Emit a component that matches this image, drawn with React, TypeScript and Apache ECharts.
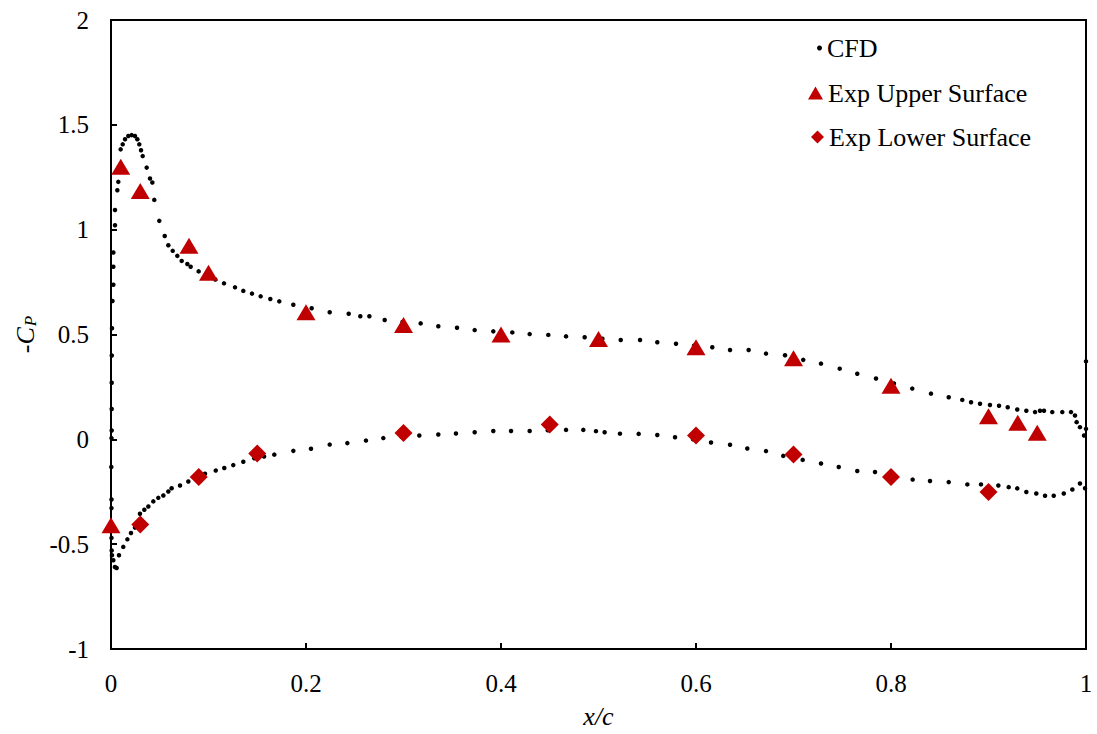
import React, { useEffect, useRef } from "react";
import * as echarts from "echarts";

// CFD pressure coefficient along the upper surface, [x/c, -Cp]
const cfdUpper: [number, number][] = [
  [0.0005, 0.006], [0.0007, 0.042], [0.0007, 0.145], [0.0007, 0.27], [0.0008, 0.4],
  [0.001, 0.53], [0.0015, 0.66], [0.0024, 0.737], [0.0024, 0.823], [0.0024, 0.891],
  [0.0041, 1.021], [0.0041, 1.094], [0.0065, 1.188], [0.0075, 1.228], [0.0099, 1.383],
  [0.012, 1.407], [0.0144, 1.431], [0.0178, 1.447], [0.0212, 1.451], [0.0246, 1.447],
  [0.027, 1.431], [0.029, 1.407], [0.0308, 1.379], [0.0325, 1.351], [0.0366, 1.296],
  [0.04, 1.244], [0.0424, 1.225], [0.0444, 1.142], [0.0495, 1.042], [0.0551, 0.97],
  [0.0588, 0.926], [0.0633, 0.899], [0.068, 0.875], [0.0725, 0.851], [0.0783, 0.836],
  [0.0817, 0.823], [0.0899, 0.801], [0.099, 0.78], [0.107, 0.762], [0.1159, 0.744],
  [0.1272, 0.725], [0.1357, 0.708], [0.1446, 0.695], [0.1535, 0.682], [0.1634, 0.669],
  [0.1726, 0.658], [0.187, 0.642], [0.2058, 0.625], [0.2243, 0.606], [0.2438, 0.599],
  [0.2557, 0.587], [0.265, 0.587], [0.2807, 0.569], [0.299, 0.56], [0.3176, 0.553],
  [0.3357, 0.539], [0.3549, 0.532], [0.373, 0.521], [0.3921, 0.515], [0.4116, 0.51],
  [0.4294, 0.502], [0.4485, 0.498], [0.4667, 0.491], [0.4858, 0.487], [0.504, 0.48],
  [0.5228, 0.474], [0.5426, 0.474], [0.5603, 0.463], [0.5795, 0.456], [0.598, 0.447],
  [0.6167, 0.439], [0.6349, 0.426], [0.654, 0.426], [0.6718, 0.409], [0.6913, 0.401],
  [0.71, 0.379], [0.7282, 0.361], [0.7474, 0.337], [0.7654, 0.313], [0.7846, 0.29],
  [0.803, 0.266], [0.8218, 0.242], [0.841, 0.218], [0.8592, 0.201], [0.8731, 0.188],
  [0.8821, 0.177], [0.8913, 0.17], [0.9015, 0.164], [0.9108, 0.16], [0.9197, 0.153],
  [0.9295, 0.142], [0.9388, 0.136], [0.9477, 0.13], [0.9528, 0.136], [0.9569, 0.136],
  [0.9654, 0.13], [0.9757, 0.13], [0.9846, 0.13], [0.9887, 0.114], [0.9904, 0.082],
  [0.9938, 0.058], [0.998, 0.018], [1.0, 0.05], [1.0, 0.372],
];

// CFD pressure coefficient along the lower surface, [x/c, -Cp]
const cfdLower: [number, number][] = [
  [0.0003, -0.132], [0.0005, -0.287], [0.0005, -0.328], [0.0005, -0.47], [0.0007, -0.53],
  [0.001, -0.553], [0.0024, -0.577], [0.004, -0.609], [0.0058, -0.614], [0.0082, -0.553],
  [0.0126, -0.513], [0.0168, -0.477], [0.0205, -0.447], [0.0246, -0.421], [0.0297, -0.355],
  [0.0342, -0.336], [0.0383, -0.32], [0.0434, -0.296], [0.0485, -0.279], [0.0537, -0.268],
  [0.0588, -0.249], [0.0622, -0.233], [0.0708, -0.22], [0.0793, -0.201], [0.088, -0.183],
  [0.0964, -0.164], [0.1074, -0.149], [0.1162, -0.137], [0.1254, -0.123], [0.1357, -0.107],
  [0.147, -0.09], [0.157, -0.082], [0.1675, -0.073], [0.187, -0.055], [0.2051, -0.045],
  [0.2243, -0.025], [0.2424, -0.018], [0.2615, -0.006], [0.2793, 0.006], [0.298, 0.012],
  [0.3162, 0.018], [0.3357, 0.023], [0.3538, 0.028], [0.373, 0.034], [0.3921, 0.04],
  [0.4103, 0.04], [0.4294, 0.04], [0.448, 0.043], [0.4667, 0.045], [0.4844, 0.045],
  [0.4974, 0.039], [0.5063, 0.034], [0.522, 0.027], [0.5412, 0.026], [0.5603, 0.021],
  [0.5785, 0.01], [0.597, 0.0], [0.6154, -0.015], [0.6349, -0.026], [0.6526, -0.044],
  [0.6718, -0.056], [0.6895, -0.079], [0.7094, -0.098], [0.7282, -0.115], [0.7464, -0.132],
  [0.7654, -0.151], [0.7836, -0.156], [0.803, -0.175], [0.8222, -0.192], [0.84, -0.199],
  [0.8592, -0.204], [0.8783, -0.215], [0.8923, -0.215], [0.9101, -0.22], [0.9207, -0.228],
  [0.9295, -0.234], [0.9388, -0.251], [0.949, -0.258], [0.958, -0.269], [0.9669, -0.269],
  [0.9772, -0.258], [0.986, -0.239], [0.9938, -0.211], [0.999, -0.233],
];

// Experimental taps, upper surface
const expUpperX = [0, 0.01, 0.03, 0.08, 0.1, 0.2, 0.3, 0.4, 0.5, 0.6, 0.7, 0.8, 0.9, 0.93, 0.95];
const expUpperY = [-0.41, 1.3, 1.185, 0.923, 0.795, 0.606, 0.545, 0.5, 0.479, 0.439, 0.387, 0.256, 0.11, 0.079, 0.031];

// Experimental taps, lower surface
const expLowerX = [0.03, 0.09, 0.15, 0.3, 0.45, 0.6, 0.7, 0.8, 0.9];
const expLowerY = [-0.406, -0.18, -0.067, 0.03, 0.071, 0.018, -0.072, -0.18, -0.251];

const FONT = "Liberation Serif";
const RED = "#C00000";

const zip = (xs: number[], ys: number[]) => xs.map((x, i) => [x, ys[i]]);

export default function App() {
  const ref = useRef<HTMLDivElement>(null);

  useEffect(() => {
    if (!ref.current) return;
    const chart = echarts.init(ref.current, undefined, { renderer: "svg" });

    const legendBase = {
      orient: "vertical" as const,
      selectedMode: false,
      padding: 0,
      textStyle: { fontFamily: FONT, fontSize: 26, color: "#000" },
    };

    const tickLabel = {
      fontFamily: FONT,
      fontSize: 25,
      color: "#000",
      margin: 22,
      formatter: (v: number) => String(parseFloat(v.toFixed(1))),
    };

    chart.setOption({
      animation: false,
      backgroundColor: "#fff",
      textStyle: { fontFamily: FONT },
      grid: {
        left: 111,
        top: 20,
        right: 11,
        bottom: 84,
        show: true,
        borderColor: "#000",
        borderWidth: 2,
      },
      legend: [
        { ...legendBase, data: ["CFD"], left: 817, top: 35, itemWidth: 5, itemHeight: 5 },
        { ...legendBase, data: ["Exp Upper Surface"], left: 808, top: 80, itemWidth: 15, itemHeight: 13 },
        { ...legendBase, data: ["Exp Lower Surface"], left: 811, top: 124, itemWidth: 13, itemHeight: 13 },
      ],
      xAxis: {
        type: "value",
        min: 0,
        max: 1,
        interval: 0.2,
        name: "x/c",
        nameLocation: "middle",
        nameGap: 54,
        nameTextStyle: { fontFamily: FONT, fontSize: 26, fontStyle: "italic", color: "#000" },
        axisLine: { show: true, onZero: false, lineStyle: { color: "#000", width: 2 } },
        axisTick: { show: true, inside: true, length: 6, lineStyle: { color: "#000", width: 2 } },
        axisLabel: tickLabel,
        splitLine: { show: false },
      },
      yAxis: {
        type: "value",
        min: -1,
        max: 2,
        interval: 0.5,
        name: "{m|-}{c|C}{s|P}",
        nameLocation: "middle",
        nameGap: 60,
        nameTextStyle: {
          color: "#000",
          fontFamily: FONT,
          rich: {
            m: { fontFamily: FONT, fontSize: 26, color: "#000" },
            c: { fontFamily: FONT, fontSize: 26, fontStyle: "italic", color: "#000" },
            s: { fontFamily: FONT, fontSize: 17, fontStyle: "italic", color: "#000", padding: [10, 0, 0, 1] },
          },
        },
        axisLine: { show: true, onZero: false, lineStyle: { color: "#000", width: 2 } },
        axisTick: { show: true, inside: true, length: 6, lineStyle: { color: "#000", width: 2 } },
        axisLabel: tickLabel,
        splitLine: { show: false },
      },
      series: [
        {
          name: "CFD",
          type: "scatter",
          symbol: "circle",
          symbolSize: 4.5,
          itemStyle: { color: "#000", opacity: 1 },
          data: [...cfdUpper, ...cfdLower],
          z: 2,
        },
        {
          name: "Exp Upper Surface",
          type: "scatter",
          symbol: "triangle",
          symbolSize: [19, 16],
          itemStyle: { color: RED, opacity: 1 },
          data: zip(expUpperX, expUpperY),
          z: 3,
        },
        {
          name: "Exp Lower Surface",
          type: "scatter",
          symbol: "diamond",
          symbolSize: [18, 18],
          itemStyle: { color: RED, opacity: 1 },
          data: zip(expLowerX, expLowerY),
          z: 3,
        },
      ],
    });

    return () => chart.dispose();
  }, []);

  return (
    <div
      ref={ref}
      style={{ position: "fixed", left: 0, top: 0, width: 1097, height: 734, background: "#fff" }}
    />
  );
}
